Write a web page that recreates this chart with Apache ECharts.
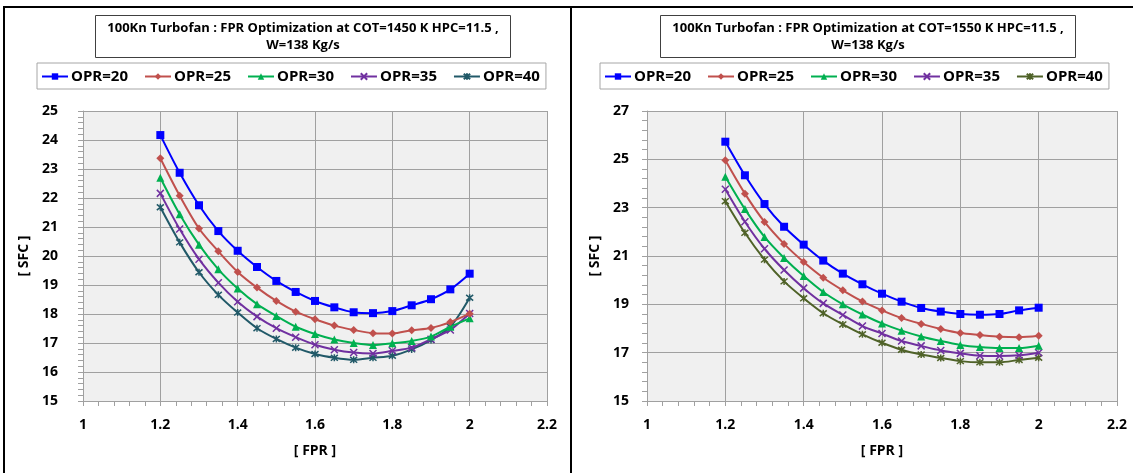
<!DOCTYPE html>
<html>
<head>
<meta charset="utf-8">
<script src="https://cdn.jsdelivr.net/npm/echarts@6/dist/echarts.min.js"></script>
<style>
    body { margin: 0; background: #fff; }
    #chartLeft { position: absolute; left: 0; top: 0; width: 571px; height: 473px; }
    #chartRight { position: absolute; left: 571px; top: 0; width: 562px; height: 473px; }
    .linea { position: absolute; background: #000; }
</style>
</head>
<body>
<div id="chartLeft"></div>
<div id="chartRight"></div>
<div class="linea" style="left:3px; top:6px; width:1130px; height:2px;"></div>
<div class="linea" style="left:3px; top:6px; width:2px; height:467px;"></div>
<div class="linea" style="left:570px; top:6px; width:2px; height:467px;"></div>
<script>
// FPR values (x axis)
var fpr = [1.2, 1.25, 1.3, 1.35, 1.4, 1.45, 1.5, 1.55, 1.6, 1.65, 1.7, 1.75, 1.8, 1.85, 1.9, 1.95, 2.0];
var opr = ['OPR=20', 'OPR=25', 'OPR=30', 'OPR=35', 'OPR=40'];

// COT = 1450 K
var sfcA20 = [24.17, 22.87, 21.75, 20.86, 20.18, 19.62, 19.14, 18.76, 18.45, 18.23, 18.06, 18.03, 18.10, 18.30, 18.51, 18.85, 19.39];
var sfcA25 = [23.37, 22.08, 20.95, 20.16, 19.45, 18.91, 18.45, 18.08, 17.82, 17.60, 17.45, 17.34, 17.33, 17.44, 17.52, 17.72, 18.01];
var sfcA30 = [22.70, 21.44, 20.39, 19.54, 18.88, 18.34, 17.93, 17.56, 17.31, 17.12, 17.00, 16.93, 16.99, 17.07, 17.22, 17.56, 17.85];
var sfcA35 = [22.16, 20.93, 19.89, 19.08, 18.42, 17.91, 17.51, 17.20, 16.94, 16.77, 16.67, 16.64, 16.73, 16.84, 17.13, 17.45, 18.02];
var sfcA40 = [21.68, 20.47, 19.44, 18.66, 18.05, 17.51, 17.14, 16.84, 16.62, 16.49, 16.42, 16.49, 16.56, 16.78, 17.10, 17.56, 18.56];

// COT = 1550 K
var sfcB20 = [25.73, 24.34, 23.15, 22.21, 21.47, 20.81, 20.27, 19.83, 19.44, 19.11, 18.85, 18.70, 18.60, 18.57, 18.60, 18.75, 18.86];
var sfcB25 = [24.96, 23.58, 22.41, 21.50, 20.75, 20.10, 19.58, 19.12, 18.75, 18.43, 18.19, 17.98, 17.81, 17.73, 17.66, 17.64, 17.70];
var sfcB30 = [24.28, 22.94, 21.79, 20.92, 20.17, 19.51, 19.00, 18.58, 18.21, 17.91, 17.67, 17.48, 17.32, 17.23, 17.19, 17.19, 17.29];
var sfcB35 = [23.76, 22.42, 21.30, 20.42, 19.67, 19.04, 18.56, 18.10, 17.79, 17.48, 17.28, 17.09, 16.97, 16.87, 16.86, 16.89, 17.00];
var sfcB40 = [23.27, 21.96, 20.85, 19.95, 19.25, 18.63, 18.17, 17.76, 17.41, 17.12, 16.92, 16.78, 16.65, 16.60, 16.60, 16.70, 16.79];

var xTicks = ['1', '1.2', '1.4', '1.6', '1.8', '2', '2.2'];

var fuente = '"Open Sans", "Liberation Sans", sans-serif';
var simbolos = [
    { symbol: 'rect', size: 8 },
    { symbol: 'diamond', size: 8 },
    { symbol: 'triangle', size: 8 },
    { symbol: 'path://M0,0L10,10M10,0L0,10', size: 7 },
    { symbol: 'path://M0,0L10,10M10,0L0,10M5,-1L5,11', size: 7 }
];

function armarSerie(nombre, valores, color, i) {
    return {
        name: nombre,
        type: 'line',
        smooth: 0.3,
        data: fpr.map(function (x, k) { return [x, valores[k]]; }),
        symbol: simbolos[i].symbol,
        symbolSize: simbolos[i].size,
        showAllSymbol: true,
        lineStyle: { color: color, width: 2 },
        itemStyle: { color: color, borderColor: color, borderWidth: i >= 3 ? 1.5 : 0 },
        emphasis: { disabled: true },
        z: 10 - i
    };
}

function chartInit(elId, cfg) {
    var chart = echarts.init(document.getElementById(elId));
    var series = [];
    cfg.datos.forEach(function (d, i) {
        series.push(armarSerie(opr[i], d, cfg.colores[i], i));
    });
    chart.setOption({
        animation: false,
        title: {
            text: cfg.titulo,
            left: cfg.tituloCentro,
            top: 15,
            textAlign: 'center',
            padding: [5, 12, 4, 12],
            borderColor: '#404040',
            borderWidth: 1,
            textStyle: { fontFamily: fuente, fontSize: 13, fontWeight: 'bold', color: '#000', lineHeight: 17 }
        },
        legend: {
            data: opr,
            left: cfg.legendLeft,
            top: 63,
            padding: [6, 6, 5, 4],
            itemGap: 16,
            itemWidth: 26,
            itemHeight: 8,
            borderColor: '#a6a6a6',
            borderWidth: 1,
            textStyle: { fontFamily: fuente, fontSize: 15, fontWeight: 'bold', color: '#000', padding: [0, 0, 0, -2] }
        },
        grid: {
            left: cfg.gridLeft,
            right: cfg.gridRight,
            top: 111,
            bottom: 72,
            show: true,
            backgroundColor: '#f0f0f0',
            borderWidth: 0
        },
        xAxis: {
            type: 'value',
            min: 1,
            max: 2.2,
            interval: 0.2,
            name: '[ FPR ]',
            nameLocation: 'middle',
            nameGap: 43,
            nameTextStyle: { fontFamily: fuente, fontSize: 14, fontWeight: 'bold', color: '#000' },
            axisLine: { show: true, lineStyle: { color: '#a0a0a0' } },
            axisTick: { show: true, length: 5, lineStyle: { color: '#a0a0a0' } },
            minorTick: { show: true, splitNumber: 5, length: 5, lineStyle: { color: '#a0a0a0' } },
            splitLine: { show: true, lineStyle: { color: '#a0a0a0', width: 1 } },
            axisLabel: {
                margin: 17,
                fontFamily: fuente, fontSize: 14, fontWeight: 'bold', color: '#000',
                formatter: function (v) { return xTicks[Math.round((v - 1) / 0.2)]; }
            }
        },
        yAxis: {
            type: 'value',
            min: cfg.yMin,
            max: cfg.yMax,
            interval: cfg.yInterval,
            name: '[ SFC ]',
            nameLocation: 'middle',
            nameGap: cfg.yNameGap,
            nameTextStyle: { fontFamily: fuente, fontSize: 14, fontWeight: 'bold', color: '#000' },
            axisLine: { show: true, lineStyle: { color: '#a0a0a0' } },
            axisTick: { show: true, length: 5, lineStyle: { color: '#a0a0a0' } },
            minorTick: { show: true, splitNumber: 5, length: 5, lineStyle: { color: '#a0a0a0' } },
            splitLine: { show: true, lineStyle: { color: '#a0a0a0', width: 1 } },
            axisLabel: { margin: cfg.yLabelMargin, fontFamily: fuente, fontSize: 14, fontWeight: 'bold', color: '#000' }
        },
        series: series
    });
    return chart;
}

chartInit('chartLeft', {
    titulo: '100Kn Turbofan : FPR Optimization at COT=1450 K HPC=11.5 ,\nW=138 Kg/s',
    tituloCentro: 291,
    legendLeft: 37,
    gridLeft: 83,
    gridRight: 24,
    yMin: 15, yMax: 25, yInterval: 1,
    yNameGap: 40,
    yLabelMargin: 25,
    colores: ['#0000ff', '#c0504d', '#00b050', '#7030a0', '#215968'],
    datos: [sfcA20, sfcA25, sfcA30, sfcA35, sfcA40]
});

chartInit('chartRight', {
    titulo: '100Kn Turbofan : FPR Optimization at COT=1550 K HPC=11.5 ,\nW=138 Kg/s',
    tituloCentro: 285,
    legendLeft: 29,
    gridLeft: 76,
    gridRight: 16,
    yMin: 15, yMax: 27, yInterval: 2,
    yNameGap: 42,
    yLabelMargin: 18,
    colores: ['#0000ff', '#c0504d', '#00b050', '#7030a0', '#4f6228'],
    datos: [sfcB20, sfcB25, sfcB30, sfcB35, sfcB40]
});
</script>
</body>
</html>
